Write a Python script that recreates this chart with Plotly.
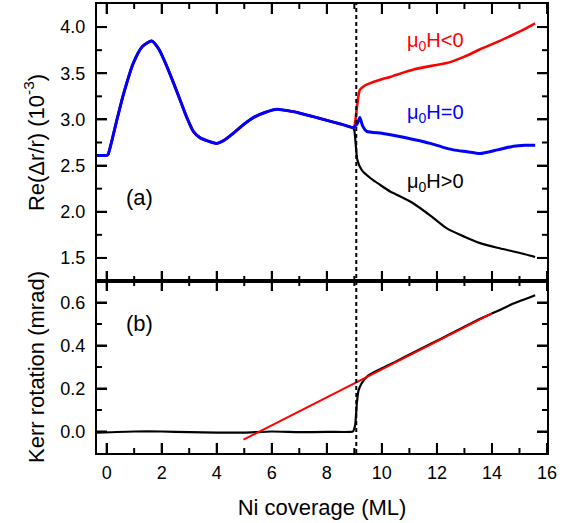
import plotly.graph_objects as go

# ---------------- data ----------------
x_common = [-0.35, -0.2, 0.0, 0.05, 0.36, 0.6, 0.97, 1.3, 1.64, 1.9, 2.18, 2.45, 2.67,
            2.9, 3.15, 3.4, 3.64, 4.0, 4.3, 4.6, 5.0, 5.33, 5.8, 6.18, 6.67, 7.0,
            7.51, 8.0, 8.5, 8.73, 8.95]
y_common = [2.61, 2.61, 2.61, 2.62, 2.98, 3.26, 3.61, 3.79, 3.85, 3.76, 3.58, 3.38, 3.21,
            3.03, 2.87, 2.80, 2.77, 2.74, 2.78, 2.85, 2.95, 3.02, 3.08, 3.11, 3.09, 3.07,
            3.03, 2.99, 2.95, 2.93, 2.91]

x_neg = [9.0, 9.1, 9.2, 9.4, 9.94, 10.3, 10.5, 11.15, 11.8, 12.36, 13.0, 13.57, 14.2, 14.78, 15.2, 15.57]
y_neg = [2.92, 3.15, 3.32, 3.37, 3.43, 3.46, 3.48, 3.54, 3.58, 3.61, 3.68, 3.76, 3.84, 3.92, 3.98, 4.04]

x_zero = [9.0, 9.1, 9.2, 9.3, 9.45, 10.0, 10.55, 11.2, 11.76, 12.2, 12.6, 13.1, 13.57, 14.2, 14.78, 15.2, 15.57]
y_zero = [2.92, 2.95, 3.02, 2.93, 2.87, 2.85, 2.82, 2.78, 2.74, 2.70, 2.67, 2.65, 2.63, 2.67, 2.71, 2.72, 2.72]

x_pos = [9.0, 9.11, 9.27, 9.6, 9.94, 10.3, 10.5, 11.15, 11.8, 12.36, 13.0, 13.57, 14.2, 14.78, 15.2, 15.57]
y_pos = [2.88, 2.56, 2.45, 2.36, 2.29, 2.22, 2.19, 2.09, 1.95, 1.82, 1.73, 1.66, 1.61, 1.57, 1.54, 1.51]

x_kerr = [-0.35, 1.0, 2.0, 3.0, 4.0, 5.0, 6.0, 7.0, 8.0, 8.85, 8.95, 9.03, 9.09, 9.15, 9.27,
          9.5, 9.94, 10.5, 11.15, 11.8, 12.36, 13.0, 13.57, 14.2, 14.78, 15.57]
y_kerr = [-0.005, 0.0, 0.0, -0.003, -0.005, -0.005, 0.0, -0.003, -0.002, -0.002, 0.0, 0.03,
          0.13, 0.19, 0.225, 0.26, 0.29, 0.325, 0.367, 0.409, 0.445, 0.487, 0.524, 0.56, 0.595, 0.634]
x_fit = [4.97, 14.0]
y_fit = [-0.038, 0.549]

x_transition = 9.07

labels = ["μ<sub>0</sub>H&lt;0", "μ<sub>0</sub>H=0", "μ<sub>0</sub>H&gt;0"]
label_x = [11.96, 11.96, 11.96]
label_y = [3.84, 3.06, 2.32]
label_colors = ["#ff0000", "#0000ff", "#000000"]

# axis ranges and tick positions
x_range = [-0.35, 16]
y1_range = [1.25, 4.25]
y2_range = [-0.1, 0.7]
x_major = [0, 2, 4, 6, 8, 10, 12, 14, 16]
x_minor = [1, 3, 5, 7, 9, 11, 13, 15]
y1_major = [1.5, 2.0, 2.5, 3.0, 3.5, 4.0]
y1_minor = [1.75, 2.25, 2.75, 3.25, 3.75]
y2_major = [0.0, 0.2, 0.4, 0.6]
y2_minor = [0.1, 0.3, 0.5]

# ---------------- layout geometry ----------------
W, H = 570, 523
M_L, M_R, M_T, M_B = 97, 23, 4, 70
PLOT_W = W - M_L - M_R
PLOT_H = H - M_T - M_B
LOWER_H = 172
split = LOWER_H / PLOT_H
UPPER_H = PLOT_H - LOWER_H
MAJOR_LEN, MINOR_LEN, TICK_W = 10, 5, 2

FONT = "Liberation Sans, Arial, sans-serif"
fig = go.Figure()

fig.add_trace(go.Scatter(x=x_common + x_pos, y=y_common + y_pos, mode="lines",
                         line=dict(color="#000000", width=2.2, shape="spline", smoothing=0.6),
                         xaxis="x", yaxis="y", showlegend=False))
fig.add_trace(go.Scatter(x=x_common + x_neg, y=y_common + y_neg, mode="lines",
                         line=dict(color="#ff0000", width=2.6, shape="spline", smoothing=0.6),
                         xaxis="x", yaxis="y", showlegend=False))
fig.add_trace(go.Scatter(x=x_common + x_zero, y=y_common + y_zero, mode="lines",
                         line=dict(color="#0000ff", width=3, shape="spline", smoothing=0.6),
                         xaxis="x", yaxis="y", showlegend=False))
fig.add_trace(go.Scatter(x=x_kerr, y=y_kerr, mode="lines",
                         line=dict(color="#000000", width=2.2, shape="spline", smoothing=0.5),
                         xaxis="x2", yaxis="y2", showlegend=False))
fig.add_trace(go.Scatter(x=x_fit, y=y_fit, mode="lines",
                         line=dict(color="#ff0000", width=2),
                         xaxis="x2", yaxis="y2", showlegend=False))


# inward tick marks on all frame edges, drawn as short line segments whose length
# is converted from pixels to axis units (they coincide with the axes' own inside ticks)
def tick_segments(yrange, ymaj, ymin, panel_h):
    ux = (x_range[1] - x_range[0]) / PLOT_W
    uy = (yrange[1] - yrange[0]) / panel_h
    xs, ys = [], []
    for vals, ln in [(x_major, MAJOR_LEN), (x_minor, MINOR_LEN)]:
        for v in vals:
            for edge, sign in [(yrange[0], 1), (yrange[1], -1)]:
                xs += [v, v, None]
                ys += [edge, edge + sign * ln * uy, None]
    for vals, ln in [(ymaj, MAJOR_LEN), (ymin, MINOR_LEN)]:
        for v in vals:
            for edge, sign in [(x_range[0], 1), (x_range[1], -1)]:
                xs += [edge, edge + sign * ln * ux, None]
                ys += [v, v, None]
    return xs, ys


for xa, ya, yrange, ymaj, ymin, ph in [("x", "y", y1_range, y1_major, y1_minor, UPPER_H),
                                       ("x2", "y2", y2_range, y2_major, y2_minor, LOWER_H)]:
    tx, ty = tick_segments(yrange, ymaj, ymin, ph)
    fig.add_trace(go.Scatter(x=tx, y=ty, mode="lines", xaxis=xa, yaxis=ya,
                             line=dict(color="#000000", width=TICK_W),
                             hoverinfo="skip", showlegend=False, connectgaps=False))

fig.add_shape(type="line", xref="x2", yref="paper", x0=x_transition, x1=x_transition,
              y0=0, y1=1, line=dict(color="#000000", width=2, dash="4px,3px"))

for t, lx, ly, c in zip(labels, label_x, label_y, label_colors):
    fig.add_annotation(x=lx, y=ly, xref="x", yref="y", text=t, showarrow=False,
                       font=dict(color=c, size=20, family=FONT))
fig.add_annotation(x=1.18, y=2.15, xref="x", yref="y", text="(a)", showarrow=False,
                   font=dict(color="#000000", size=22, family=FONT))
fig.add_annotation(x=1.18, y=0.5, xref="x2", yref="y2", text="(b)", showarrow=False,
                   font=dict(color="#000000", size=22, family=FONT))

FRAME = dict(ticks="inside", ticklen=MAJOR_LEN, tickwidth=TICK_W, tickcolor="#000000",
             mirror="ticks", showline=True, linewidth=2, linecolor="#000000",
             showgrid=False, zeroline=False)

fig.update_layout(
    template="none",
    width=W, height=H,
    margin=dict(l=M_L, r=M_R, t=M_T, b=M_B),
    paper_bgcolor="#ffffff", plot_bgcolor="#ffffff",
    font=dict(family=FONT, size=18, color="#000000"),
    xaxis=dict(**FRAME, range=x_range, tickvals=x_major, anchor="y", domain=[0, 1],
               showticklabels=False),
    xaxis2=dict(**FRAME, range=x_range, tickvals=x_major, anchor="y2", domain=[0, 1],
                ticklabelstandoff=2,
                title=dict(text="Ni coverage (ML)", standoff=18)),
    yaxis=dict(**FRAME, anchor="x", domain=[split, 1], range=y1_range, tickvals=y1_major,
               tickformat=".1f", ticklabelstandoff=6,
               title=dict(text="Re(Δr/r) (10<sup>-3</sup>)", standoff=10)),
    yaxis2=dict(**FRAME, anchor="x2", domain=[0, split], range=y2_range, tickvals=y2_major,
                tickformat=".1f", ticklabelstandoff=6,
                title=dict(text="Kerr rotation (mrad)", standoff=10)),
)

fig.write_html("out.html", post_script="document.body.style.margin='0';",
               config={"displayModeBar": False})
